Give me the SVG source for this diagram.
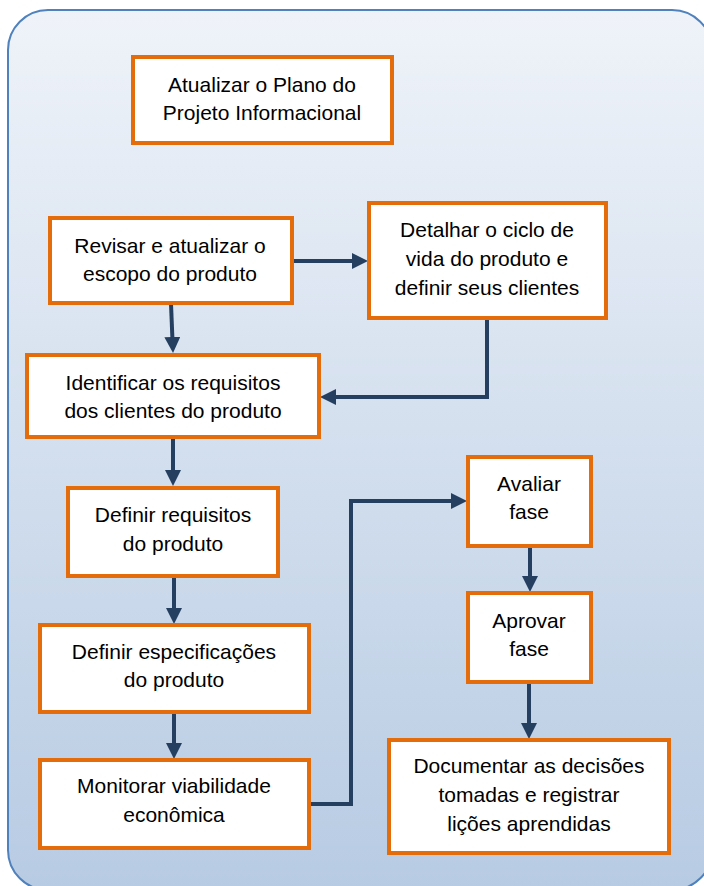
<svg xmlns="http://www.w3.org/2000/svg" width="704" height="886" viewBox="0 0 704 886">
  <defs>
    <linearGradient id="bg" x1="0" y1="0" x2="0" y2="1">
      <stop offset="0" stop-color="#eff3f9"/>
      <stop offset="1" stop-color="#b7cbe3"/>
    </linearGradient>
    <marker id="arr" markerUnits="userSpaceOnUse" markerWidth="16" markerHeight="16" refX="8" refY="8" orient="auto">
      <path d="M0,0 L16,8 L0,16 z" fill="#243f60"/>
    </marker>
    <style>
      .box { fill: #ffffff; stroke: #e46c0a; stroke-width: 4; }
      .lbl { font-family: "Liberation Sans", Arial, sans-serif; font-size: 21px; fill: #000000; text-anchor: middle; }
      .con { fill: none; stroke: #243f60; stroke-width: 4; marker-end: url(#arr); }
    </style>
  </defs>

  <rect id="container" x="8" y="10" width="704" height="880" rx="40" ry="40" fill="url(#bg)" stroke="#4f81bd" stroke-width="2"/>

  <g id="connectors">
    <path class="con" d="M293,261 H360"/>
    <path class="con" d="M171,304 L172.7,345"/>
    <path class="con" d="M487,319 V397 H328"/>
    <path class="con" d="M173,438 V478"/>
    <path class="con" d="M174,577 V616"/>
    <path class="con" d="M174,712 V751"/>
    <path class="con" d="M310,804 H351 V501 H459"/>
    <path class="con" d="M530,547 V584"/>
    <path class="con" d="M529,682 V731"/>
  </g>

  <g id="n1">
    <rect class="box" x="133" y="57" width="259" height="86"/>
    <text class="lbl" x="262" y="92">Atualizar o Plano do</text>
    <text class="lbl" x="262" y="120">Projeto Informacional</text>
  </g>
  <g id="n2">
    <rect class="box" x="50" y="218" width="242" height="85"/>
    <text class="lbl" x="170" y="253">Revisar e atualizar o</text>
    <text class="lbl" x="170" y="281">escopo do produto</text>
  </g>
  <g id="n3">
    <rect class="box" x="369" y="203" width="237" height="115"/>
    <text class="lbl" x="487" y="237">Detalhar o ciclo de</text>
    <text class="lbl" x="487" y="266">vida do produto e</text>
    <text class="lbl" x="487" y="295">definir seus clientes</text>
  </g>
  <g id="n4">
    <rect class="box" x="27" y="355" width="292" height="82"/>
    <text class="lbl" x="173" y="390">Identificar os requisitos</text>
    <text class="lbl" x="173" y="418">dos clientes do produto</text>
  </g>
  <g id="n5">
    <rect class="box" x="68" y="488" width="210" height="88"/>
    <text class="lbl" x="173" y="522">Definir requisitos</text>
    <text class="lbl" x="173" y="551">do produto</text>
  </g>
  <g id="n6">
    <rect class="box" x="40" y="625" width="269" height="87"/>
    <text class="lbl" x="174" y="659">Definir especificações</text>
    <text class="lbl" x="174" y="687">do produto</text>
  </g>
  <g id="n7">
    <rect class="box" x="40" y="760" width="269" height="88"/>
    <text class="lbl" x="174" y="793">Monitorar viabilidade</text>
    <text class="lbl" x="174" y="822">econômica</text>
  </g>
  <g id="n8">
    <rect class="box" x="468" y="457" width="123" height="89"/>
    <text class="lbl" x="529" y="491">Avaliar</text>
    <text class="lbl" x="529" y="519">fase</text>
  </g>
  <g id="n9">
    <rect class="box" x="468" y="593" width="123" height="89"/>
    <text class="lbl" x="529" y="628">Aprovar</text>
    <text class="lbl" x="529" y="656">fase</text>
  </g>
  <g id="n10">
    <rect class="box" x="389" y="740" width="280" height="113"/>
    <text class="lbl" x="529" y="773">Documentar as decisões</text>
    <text class="lbl" x="529" y="802">tomadas e registrar</text>
    <text class="lbl" x="529" y="831">lições aprendidas</text>
  </g>
</svg>
